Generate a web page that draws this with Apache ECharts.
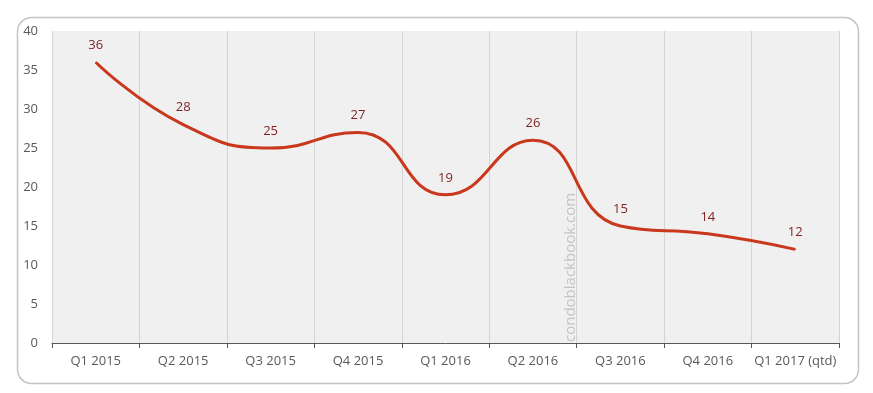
<!DOCTYPE html>
<html><head><meta charset="utf-8">
<script src="https://cdn.jsdelivr.net/npm/echarts@6/dist/echarts.min.js"></script>
<style>html,body{margin:0;padding:0;background:#fff}#c{width:873px;height:393px}</style>
</head><body><div id="c"></div>
<script>
const categories = ['Q1 2015','Q2 2015','Q3 2015','Q4 2015','Q1 2016','Q2 2016','Q3 2016','Q4 2016','Q1 2017 (qtd)'];
const values = [36,28,25,27,19,26,15,14,12];
const yMin = 0, yMax = 40, yStep = 5;
const watermark = 'condoblackbook.com';

const chart = echarts.init(document.getElementById('c'));
chart.setOption({
  animation: false,
  backgroundColor: '#ffffff',
  grid: {left: 52, right: 34, top: 31, bottom: 50, show: true, backgroundColor: '#f0f0f0', borderWidth: 0},
  graphic: [
    {type: 'rect', left: 15, top: 15, shape: {width: 841, height: 366, r: 14}, style: {fill: 'none', stroke: '#c4c4c4', lineWidth: 1.5}, z: 100},
    {type: 'text', x: 571, y: 342, rotation: Math.PI/2, style: {text: watermark, fill: '#c4c4c4', font: '15px "Open Sans", sans-serif', textAlign: 'left', textVerticalAlign: 'middle'}, z: 50}
  ],
  xAxis: {
    type: 'category', data: categories, boundaryGap: true,
    axisLine: {lineStyle: {color: '#595959', width: 1}},
    axisTick: {show: true, length: 5, interval: 0, lineStyle: {color: '#595959'}},
    axisLabel: {color: '#595959', fontSize: 13, interval: 0, fontFamily: '"Open Sans", sans-serif', margin: 12},
    splitLine: {show: true, interval: 0, lineStyle: {color: '#d4d4d4', width: 1}}
  },
  yAxis: {
    type: 'value', min: yMin, max: yMax, interval: yStep,
    axisLine: {show: false}, axisTick: {show: false},
    axisLabel: {color: '#595959', fontSize: 13, fontFamily: '"Open Sans", sans-serif', margin: 14},
    splitLine: {show: false}
  },
  series: [{
    type: 'line', data: values, smooth: 0.5, symbol: 'circle', symbolSize: 1, showSymbol: true,
    itemStyle: {color: '#c9381c'},
    lineStyle: {color: '#c9381c', width: 3},
    label: {show: true, position: 'top', distance: 10, color: '#7f1f1f', fontSize: 13, fontFamily: '"Open Sans", sans-serif'}
  }]
});
</script></body></html>
